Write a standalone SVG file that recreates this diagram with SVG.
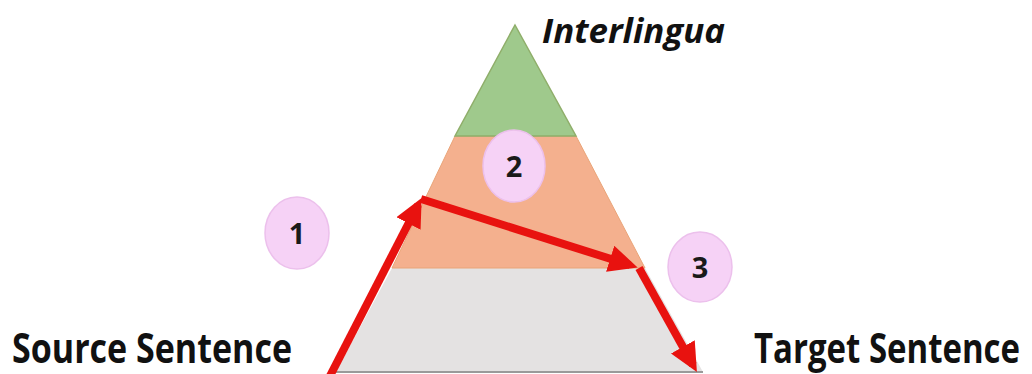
<svg xmlns="http://www.w3.org/2000/svg" width="1032" height="374" viewBox="0 0 1032 374">
<style>
.lbl{font-family:"Open Sans","Liberation Sans",sans-serif;font-weight:bold;fill:#111}
.num{font-family:"Open Sans","Liberation Sans",sans-serif;font-weight:bold;font-size:29px;fill:#1a1a1a;text-anchor:middle}
.circ{fill:#f6d2f6;stroke:#ecc0ec;stroke-width:1.5}
.arr{stroke:#e8120f;stroke-width:8;fill:none;stroke-linecap:butt}
</style>
<defs>
<marker id="ah" markerWidth="3.6" markerHeight="3.4" refX="2.6" refY="1.7" orient="auto" markerUnits="strokeWidth">
<path d="M0,0 L3.6,1.7 L0,3.4 z" fill="#e8120f"/>
</marker>
</defs>
<rect width="1032" height="374" fill="#ffffff"/>
<g id="pyramid">
<polygon points="392,268 645,268 703,372 336,372" fill="#e4e2e2"/>
<line x1="336" y1="372" x2="703" y2="372" stroke="#9a9a9a" stroke-width="2"/>
<polygon points="455,136 576,136 645,268 392,268" fill="#f4b08e" stroke="#e9a478" stroke-width="1"/>
<polygon points="515,25 576,136 455,136" fill="#9fc98c" stroke="#8fae6a" stroke-width="1.5"/>
</g>
<g id="interlingua">
<text class="lbl" x="542" y="43" font-size="34" font-style="italic" textLength="183" lengthAdjust="spacingAndGlyphs">Interlingua</text>
</g>
<g id="source">
<text class="lbl" x="12" y="363" font-size="41" textLength="280" lengthAdjust="spacingAndGlyphs">Source Sentence</text>
</g>
<g id="target">
<text class="lbl" x="754" y="363" font-size="41" textLength="266" lengthAdjust="spacingAndGlyphs">Target Sentence</text>
</g>
<g id="step1">
<ellipse class="circ" cx="297" cy="233" rx="32" ry="36"/>
<text class="num" x="297" y="244">1</text>
</g>
<g id="step2">
<ellipse class="circ" cx="514" cy="166" rx="31" ry="36"/>
<text class="num" x="514" y="177">2</text>
</g>
<g id="step3">
<ellipse class="circ" cx="700" cy="267" rx="32" ry="35"/>
<text class="num" x="700" y="278">3</text>
</g>
<g id="connectors">
<line class="arr" x1="330" y1="376" x2="418" y2="205" marker-end="url(#ah)"/>
<line class="arr" x1="421" y1="199" x2="630" y2="265" marker-end="url(#ah)"/>
<line class="arr" x1="639" y1="268" x2="693" y2="365" marker-end="url(#ah)"/>
</g>
</svg>
